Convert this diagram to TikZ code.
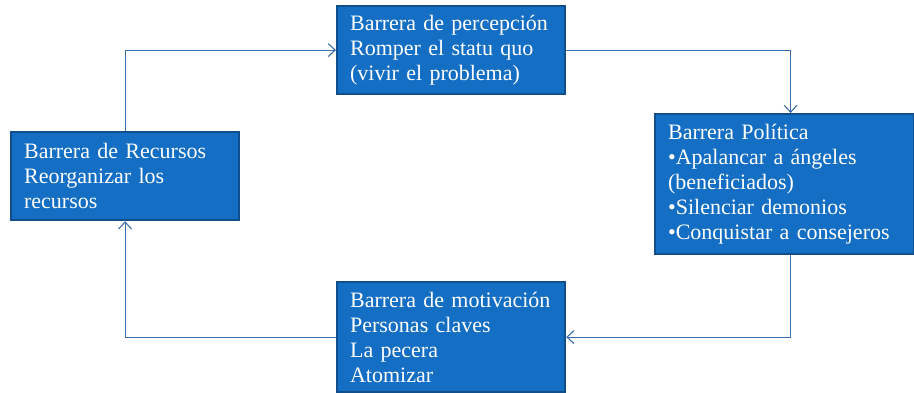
\documentclass[tikz,border=0pt]{standalone}
\usepackage{fontspec}
\setmainfont{Liberation Serif}
\usetikzlibrary{arrows.meta,positioning}
\definecolor{boxblue}{RGB}{20,110,196}
\definecolor{boxedge}{RGB}{16,78,140}
\definecolor{linkblue}{RGB}{60,110,170}

\begin{document}
\begin{tikzpicture}[
    x=1pt, y=1pt,
    barrier/.style={rectangle, draw=boxedge, line width=2.2pt, fill=boxblue, text=white, align=left, inner xsep=13pt, anchor=north west, font=\fontsize{22}{25}\selectfont},
    link/.style={draw=linkblue, line width=1.1pt, -{Straight Barb[length=7pt,width=13pt]}}
]
\useasboundingbox (0,0) rectangle (914,393);

% Nodes
\node [barrier, text width=202pt, minimum height=88pt] (percepcion) at (336,388) {Barrera de percepción\\Romper el statu quo\\(vivir el problema)};
\node [barrier, text width=233pt, minimum height=140pt] (politica) at (654,280) {Barrera Política\\•Apalancar a ángeles\\(beneficiados)\\•Silenciar demonios\\•Conquistar a consejeros};
\node [barrier, text width=202pt, minimum height=110pt] (motivacion) at (336,112) {Barrera de motivación\\Personas claves\\La pecera\\Atomizar};
\node [barrier, text width=202pt, minimum height=88pt] (recursos) at (10,262) {Barrera de Recursos\\Reorganizar los\\recursos};

% Edges
\path [link] (recursos.north) |- (percepcion.west);
\path [link] (percepcion.east) -| ([xshift=6pt]politica.north);
\path [link] ([xshift=6pt]politica.south) |- (motivacion.east);
\path [link] (motivacion.west) -| (recursos.south);

\end{tikzpicture}
\end{document}
